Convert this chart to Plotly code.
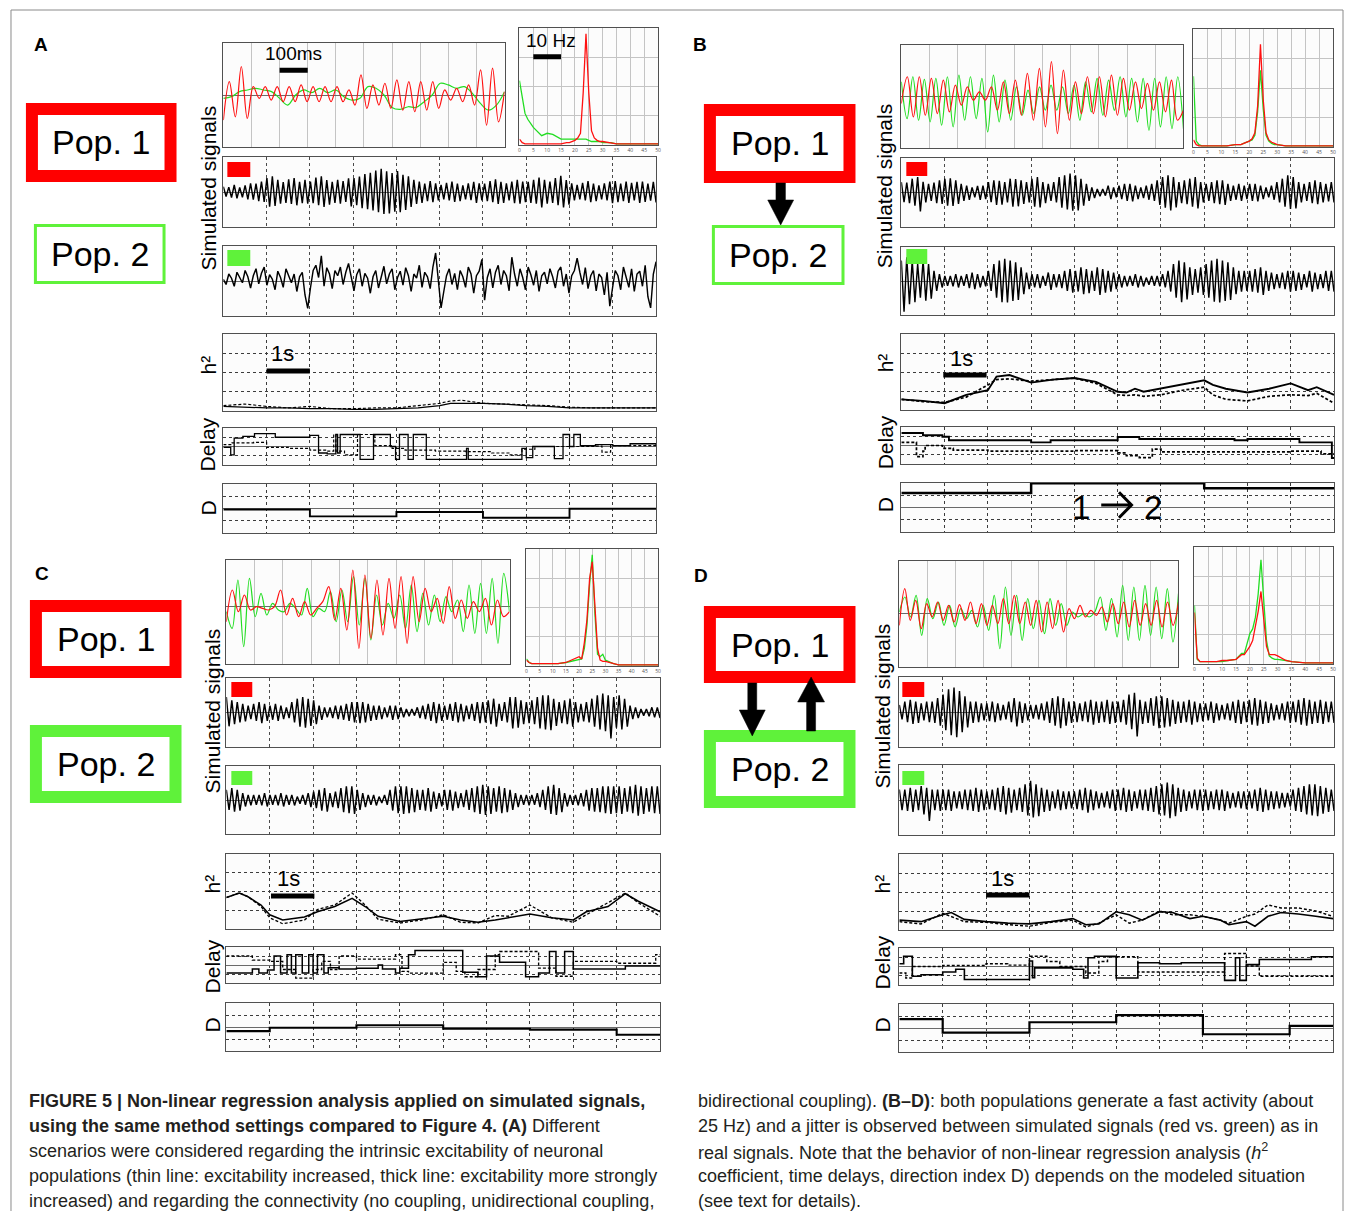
import numpy as np
import plotly.graph_objects as go

# page body has an 8px margin: the figure is drawn 8px in from the window corner
OFF = 8
W, H = 1339, 1203

# ======================= DATA =======================
# --- short overlays (1 s window, amplitude in arbitrary units; red = Pop.1, green = Pop.2)
A_ov_red = [-75,40,-65,85,-70,25,-10,25,-15,25,-20,25,-20,30,-20,25,-20,25,-20,25,-20,15,-30,60,
            -40,30,-30,35,-40,45,-45,40,-50,40,-45,40,-40,15,-15,20,-20,30,-30,75,-90,80,-80,10]
A_ov_green = [-10,-5,10,15,20,15,10,-10,-30,0,15,7,20,7,15,-5,-15,-10,25,20,0,-37,-43,-35,-37,-20,
              0,35,30,20,25,5,-25,-45,-30,10]
B_ov_red = [-22,58,-62,58,-57,53,-52,48,-47,33,-27,28,-12,13,-12,28,-42,43,-52,48,-57,68,-72,83,
            -92,103,-112,78,-72,43,-52,58,-52,58,-62,63,-57,53,-42,43,-37,38,-42,43,-47,48,-72,-42]
B_ov_green = [43,-67,58,-72,50,-77,53,-87,58,-92,63,-72,58,-67,53,-107,63,-77,48,-72,28,-57,18,-52,
              28,-42,33,-42,28,-52,33,-72,43,-47,53,-57,48,-42,58,-62,53,-77,53,-102,53,-92,58,-97,58,-97]
C_ov_red = [-45,50,-15,35,-10,0,-5,-10,0,50,-25,25,-30,15,-25,-5,15,60,-40,55,-70,110,-125,95,
            -95,80,-85,85,-65,90,-110,90,-45,55,-15,25,-50,60,-35,20,-35,15,-15,25,-55,20,-30,-15]
C_ov_green = [-15,-65,80,-120,85,-30,40,-25,10,-10,-15,10,-5,-25,55,-30,-5,-15,45,-45,50,-45,90,-55,
              85,-100,35,-55,10,-35,35,-65,65,-75,40,-55,35,-45,30,-15,20,-75,65,-80,70,-80,85,-110,100,-15]
D_ov_red = [-35,75,-20,40,-45,30,-10,35,-20,25,-25,27,-20,35,-30,30,-35,25,-30,45,-30,55,-30,35,-35,40,
            -55,35,-45,40,-55,15,-15,25,-10,10,-5,20,-25,30,-30,35,-40,40,-35,30,-35,40,-40,35,-35,35]
D_ov_green = [5,50,-10,55,-65,45,-15,35,-35,25,-40,15,-15,10,-40,25,-50,55,-105,80,-65,55,-80,45,-45,40,
              -60,45,-35,30,-35,5,-10,0,-10,5,50,-50,45,-70,85,-80,80,-80,85,-65,80,-75,75,-85,60]

# --- spectra (0-50 Hz, normalised power)
freqs = [0,1,2,3,5,8,10,12,15,17,18,20,21,22,23,24,25,26,27,28,29,30,33,35,40,45,50]
A_sp_red = [0.05,0.02,0.01,0.01,0.01,0.01,0.01,0.01,0.01,0.02,0.02,0.04,0.06,0.10,0.45,0.95,0.45,0.12,0.06,0.04,0.03,0.03,0.02,0.01,0.01,0.01,0.01]
A_sp_green = [0.55,0.40,0.27,0.22,0.15,0.08,0.10,0.09,0.05,0.05,0.05,0.05,0.05,0.05,0.05,0.05,0.04,0.03,0.03,0.03,0.03,0.02,0.02,0.01,0.01,0.01,0.01]
B_sp_red = [0.06,0.02,0.01,0.01,0.01,0.01,0.01,0.01,0.02,0.02,0.03,0.05,0.07,0.12,0.35,0.87,0.40,0.12,0.06,0.04,0.03,0.02,0.01,0.01,0.01,0.01,0.01]
B_sp_green = [0.60,0.05,0.02,0.01,0.01,0.01,0.01,0.01,0.02,0.02,0.03,0.05,0.06,0.10,0.30,0.65,0.32,0.10,0.05,0.03,0.02,0.02,0.01,0.01,0.01,0.01,0.01]
C_sp_red = [0.05,0.03,0.02,0.02,0.02,0.02,0.02,0.02,0.03,0.05,0.06,0.08,0.06,0.20,0.40,0.75,0.89,0.50,0.15,0.05,0.04,0.04,0.02,0.01,0.01,0.01,0.01]
C_sp_green = [0.06,0.03,0.02,0.02,0.02,0.02,0.02,0.02,0.03,0.04,0.04,0.05,0.06,0.15,0.35,0.70,0.95,0.45,0.10,0.08,0.10,0.05,0.02,0.01,0.01,0.01,0.01]
D_sp_red = [0.44,0.05,0.02,0.02,0.02,0.02,0.03,0.03,0.04,0.08,0.08,0.15,0.20,0.32,0.45,0.62,0.40,0.15,0.08,0.08,0.08,0.07,0.03,0.02,0.01,0.01,0.01]
D_sp_green = [0.50,0.04,0.02,0.02,0.02,0.02,0.02,0.03,0.04,0.09,0.09,0.26,0.30,0.40,0.60,0.89,0.55,0.20,0.07,0.05,0.04,0.04,0.03,0.02,0.01,0.01,0.01]
sp_ticks = [0,5,10,15,20,25,30,35,40,45,50]

# --- long simulated signals (10 s)
A_sig1 = [15,-13,14,-16,20,-18,13,-15,19,-21,25,-22,24,-26,30,-28,
          40,-42,45,-40,35,-33,28,-31,36,-34,40,-38,29,-32,35,-33,
          30,-32,41,-38,45,-43,34,-36,29,-31,35,-33,31,-28,39,-41,
          40,-38,44,-46,51,-49,55,-53,61,-58,66,-63,59,-61,54,-56,
          60,-58,49,-51,45,-43,35,-34,30,-31,24,-26,31,-29,25,-24,
          20,-21,26,-24,30,-28,24,-26,19,-21,25,-23,29,-31,25,-24,
          24,-26,31,-29,36,-34,29,-31,25,-24,30,-32,35,-33,30,-29,
          29,-31,35,-33,41,-44,35,-33,30,-31,40,-38,46,-44,34,-36,
          25,-24,20,-21,26,-24,31,-29,24,-26,19,-21,25,-24,30,-32,
          31,-29,24,-26,30,-31,26,-24,29,-31,30,-28,24,-25,29,-30]
A_sig2 = [5,-10,20,8,-15,25,10,-5,30,12,-20,15,35,-8,22,40,-12,18,5,-25,
          28,10,-18,35,15,-5,20,-30,12,25,-40,-78,-20,30,45,10,72,-15,38,20,
          -22,30,15,40,-10,25,50,5,-28,18,35,-15,22,8,-35,12,30,-20,15,42,
          -8,20,35,-25,10,28,-12,38,15,-30,20,8,45,-18,25,12,-22,40,80,10,
          -77,-30,15,35,-10,22,-25,30,12,-18,40,20,-35,15,28,62,-55,10,35,-20,
          25,45,-10,30,15,-28,68,20,-15,35,10,-25,40,18,-12,30,-30,15,25,-8,
          35,12,-20,28,40,-15,20,-35,15,30,65,25,-10,38,-22,15,30,-28,20,10,
          -40,25,-72,-20,30,15,-25,40,12,-18,35,-30,20,28,-15,45,-45,-77,20,55]
B_sig1 = [30,-28,29,-31,40,-38,45,-55,31,-29,25,-24,29,-31,35,-33,
          40,-38,41,-39,35,-33,25,-24,20,-21,15,-14,19,-21,20,-19,
          30,-28,35,-36,34,-35,30,-29,40,-41,39,-40,35,-33,30,-29,
          40,-41,45,-43,30,-31,25,-24,30,-29,45,-44,50,-49,55,-53,
          50,-52,40,-38,25,-24,15,-16,10,-11,10,-9,20,-19,15,-14,
          20,-19,25,-24,25,-26,20,-19,15,-16,20,-21,25,-24,35,-36,
          45,-44,50,-52,45,-43,30,-31,35,-34,40,-41,45,-46,30,-29,
          25,-24,30,-31,35,-34,35,-36,25,-24,20,-21,25,-24,20,-19,
          25,-24,25,-26,20,-19,15,-14,20,-21,30,-29,40,-41,50,-48,
          45,-46,30,-29,25,-24,30,-31,35,-34,30,-29,25,-26,30,-29]
B_sig2 = [60,-90,70,-68,60,-62,50,-49,60,-58,50,-52,30,-29,20,-19,
          15,-14,15,-16,20,-19,15,-14,20,-21,25,-24,20,-19,15,-16,
          30,-29,50,-49,60,-62,65,-63,60,-59,55,-56,40,-39,25,-24,
          20,-19,20,-21,15,-14,25,-26,20,-19,20,-21,30,-29,35,-34,
          30,-31,40,-39,35,-36,30,-29,40,-41,35,-34,30,-31,25,-24,
          20,-19,15,-16,15,-14,20,-19,15,-16,10,-11,15,-14,15,-16,
          20,-19,30,-31,50,-49,60,-62,55,-54,40,-41,35,-34,40,-41,
          50,-49,60,-61,65,-63,60,-59,55,-56,40,-39,30,-31,30,-29,
          30,-31,35,-34,40,-41,30,-29,25,-24,20,-21,25,-24,30,-31,
          30,-29,25,-26,20,-19,30,-31,25,-24,20,-21,30,-29,30,-31]
C_sig1 = [45,-40,35,-34,30,-29,25,-26,20,-19,25,-24,30,-31,25,-24,
          20,-21,25,-24,20,-19,15,-16,30,-29,40,-41,45,-44,40,-39,
          35,-34,20,-21,15,-14,15,-16,20,-19,20,-21,25,-24,30,-29,
          30,-31,30,-29,25,-24,20,-21,20,-19,15,-14,20,-21,20,-19,
          15,-14,10,-11,10,-9,15,-16,20,-19,25,-24,30,-31,25,-24,
          20,-21,25,-24,30,-29,25,-26,20,-19,25,-24,30,-31,30,-29,
          35,-34,40,-41,25,-24,30,-29,45,-46,45,-44,35,-34,30,-31,
          35,-34,45,-46,50,-49,50,-51,40,-39,30,-31,35,-34,40,-41,
          30,-29,25,-26,30,-29,40,-41,50,-49,55,-54,50,-75,45,-44,
          50,-49,40,-41,20,-19,15,-16,10,-9,10,-11,15,-14,15,-16]
C_sig2 = [30,-29,35,-34,30,-31,20,-19,15,-16,15,-14,15,-16,20,-19,
          15,-14,15,-16,20,-19,15,-14,15,-16,10,-11,15,-14,20,-21,
          25,-24,30,-31,35,-34,20,-21,25,-24,35,-36,40,-39,40,-41,
          30,-29,20,-21,15,-14,15,-16,10,-9,15,-14,30,-31,40,-39,
          40,-41,40,-39,35,-36,30,-29,30,-31,35,-34,25,-26,20,-19,
          30,-29,30,-31,25,-24,20,-21,30,-29,35,-36,40,-41,45,-44,
          40,-41,35,-34,40,-39,35,-36,30,-29,20,-21,15,-14,15,-16,
          15,-14,20,-21,30,-29,40,-41,45,-44,35,-36,20,-19,15,-14,
          15,-16,20,-19,30,-31,35,-34,35,-36,40,-39,40,-41,40,-39,
          40,-41,35,-34,40,-39,45,-46,40,-41,35,-34,40,-39,40,-41]
D_sig1 = [20,-21,30,-29,35,-34,30,-31,25,-24,30,-29,30,-31,40,-39,
          50,-52,65,-66,70,-72,60,-58,45,-44,30,-31,30,-29,25,-24,
          25,-26,30,-29,25,-24,20,-21,30,-29,40,-41,30,-31,25,-24,
          20,-19,20,-21,25,-24,30,-31,40,-39,45,-46,40,-39,30,-31,
          30,-29,25,-26,30,-29,35,-36,30,-31,30,-29,35,-34,30,-31,
          30,-29,35,-36,50,-49,55,-70,35,-34,30,-31,40,-39,45,-46,
          45,-44,40,-41,35,-34,30,-31,30,-29,35,-36,30,-29,25,-26,
          25,-24,30,-31,25,-24,20,-21,25,-24,30,-31,35,-34,30,-29,
          35,-36,40,-39,35,-34,30,-31,25,-24,20,-21,25,-24,30,-31,
          30,-29,35,-36,40,-39,35,-34,30,-31,35,-34,30,-29,30,-31]
D_sig2 = [30,-29,30,-31,35,-34,30,-29,40,-41,35,-60,30,-29,30,-31,
          30,-29,30,-31,25,-24,25,-26,30,-29,30,-31,35,-34,30,-29,
          25,-26,30,-29,35,-34,40,-41,35,-36,30,-29,35,-34,45,-44,
          55,-50,45,-46,35,-34,30,-31,25,-24,30,-29,25,-26,25,-24,
          25,-26,30,-29,35,-36,30,-29,25,-24,20,-21,25,-24,30,-31,
          30,-29,35,-34,30,-31,25,-24,30,-29,30,-31,35,-34,40,-41,
          45,-44,50,-52,45,-46,35,-34,30,-31,25,-24,30,-29,30,-31,
          30,-29,25,-26,30,-29,30,-31,25,-24,20,-21,25,-24,25,-26,
          25,-24,30,-31,35,-34,30,-29,25,-26,25,-24,20,-21,20,-19,
          30,-31,35,-34,40,-41,45,-44,45,-46,40,-39,35,-34,30,-31]

# --- h2 coefficient (solid / dotted)
A_h2_t = [0,0.5,1.0,1.5,2.0,2.5,3.0,3.5,4.0,4.5,5.0,5.25,5.5,6.0,6.5,7.0,7.5,8.0,8.5,9.0,9.5,10]
A_h2_solid = [0.06,0.05,0.04,0.04,0.03,0.03,0.02,0.02,0.03,0.04,0.07,0.10,0.10,0.10,0.09,0.07,0.06,0.04,0.04,0.04,0.04,0.04]
A_h2_dot = [0.07,0.09,0.06,0.04,0.06,0.03,0.03,0.04,0.04,0.07,0.10,0.13,0.14,0.10,0.09,0.08,0.07,0.05,0.04,0.04,0.04,0.04]
B_h2_t = [0,0.5,1.0,1.5,2.0,2.2,2.5,3.0,3.5,4.0,4.5,5.0,5.2,5.4,5.6,6.0,6.5,7.0,7.2,7.5,8.0,8.5,9.0,9.4,9.6,10]
B_h2_solid = [0.14,0.12,0.09,0.20,0.26,0.44,0.46,0.36,0.40,0.42,0.37,0.24,0.23,0.28,0.24,0.28,0.34,0.39,0.33,0.28,0.23,0.28,0.35,0.26,0.30,0.20]
B_h2_dot = [0.14,0.11,0.10,0.17,0.33,0.40,0.41,0.38,0.40,0.42,0.35,0.20,0.19,0.20,0.18,0.20,0.26,0.30,0.20,0.14,0.12,0.18,0.20,0.19,0.22,0.09]
C_h2_t = [0,0.3,0.5,0.8,1.0,1.3,1.8,2.1,2.5,2.9,3.2,3.5,4.0,4.5,5.0,5.4,5.8,6.2,6.5,7.0,7.5,8.0,8.3,8.8,9.2,9.5,10]
C_h2_solid = [0.42,0.48,0.43,0.32,0.19,0.12,0.16,0.23,0.30,0.41,0.30,0.17,0.10,0.14,0.17,0.12,0.09,0.12,0.15,0.20,0.15,0.12,0.23,0.30,0.47,0.37,0.23]
C_h2_dot = [0.42,0.48,0.43,0.30,0.15,0.07,0.12,0.26,0.32,0.48,0.32,0.13,0.08,0.12,0.19,0.09,0.08,0.18,0.17,0.32,0.15,0.09,0.19,0.35,0.48,0.35,0.17]
D_h2_t = [0,0.5,1.0,1.2,1.5,2.0,2.5,3.0,3.5,4.0,4.3,4.6,5.0,5.3,5.6,6.0,6.3,6.7,7.0,7.4,7.6,8.0,8.2,8.5,8.8,9.2,9.6,10]
D_h2_solid = [0.13,0.11,0.20,0.23,0.14,0.11,0.09,0.08,0.11,0.15,0.07,0.08,0.24,0.20,0.13,0.24,0.23,0.15,0.18,0.13,0.07,0.11,0.05,0.18,0.23,0.21,0.18,0.15]
D_h2_dot = [0.11,0.08,0.22,0.18,0.11,0.10,0.07,0.05,0.10,0.13,0.04,0.09,0.20,0.09,0.13,0.25,0.20,0.20,0.18,0.13,0.09,0.18,0.21,0.33,0.29,0.29,0.25,0.18]

# --- time delays (step changes: times and levels)
A_dl_solid_t = [0,0.17,0.25,0.45,0.72,1.2,2.0,2.2,2.4,2.6,2.64,2.70,3.16,3.47,3.86,3.98,4.07,4.27,4.39,4.69,5.62,5.66,6.9,7.0,7.15,7.65,7.85,8.0,8.1,8.25,8.6,9.0,9.4,10]
A_dl_solid = [-0.1,-0.9,0.9,1.1,1.4,1.0,1.2,-0.7,-0.8,1.3,-0.7,1.3,-1.4,1.3,0.0,-1.4,1.3,-1.4,1.3,-1.4,-0.2,-1.4,-0.2,-1.2,0.0,-1.3,1.3,0.0,1.3,0.1,0.2,0.1,0.3,0.1]
A_dl_dot_t = [0,0.2,0.7,1.0,1.5,2.0,2.4,2.55,2.6,2.8,3.1,3.5,3.9,4.2,4.9,5.6,6.2,6.6,6.9,7.2,8.0,8.6,8.75,8.95,10]
A_dl_dot = [0.2,0.4,0.45,-0.1,-0.2,-0.4,-0.5,1.3,-0.5,-0.9,1.3,0.1,-0.2,-0.4,-0.5,-0.55,-0.7,-0.9,-0.3,0.0,0.0,0.05,-0.6,0.1,0.1]
B_dl_solid_t = [0,0.5,0.95,1.1,3.0,3.45,5.0,5.5,7.7,8.0,9.2,9.95,10]
B_dl_solid = [1.35,1.1,0.95,0.56,0.34,0.56,0.92,0.7,0.56,0.7,0.34,-1.35,-1.35]
B_dl_dot_t = [0,0.35,0.5,0.55,0.95,1.2,2.0,4.0,5.0,5.2,5.5,5.8,6.0,9.0,9.7,10]
B_dl_dot = [0.34,-1.2,-0.6,0.0,-0.3,-0.5,-0.6,-0.55,-0.8,-1.1,-1.3,-0.4,-0.7,-0.6,-0.9,-0.9]
C_dl_solid_t = [0,0.6,0.75,0.95,1.1,1.25,1.4,1.5,1.6,1.75,1.9,2.0,2.1,2.25,2.35,2.6,3.0,3.5,3.6,3.9,4.0,4.2,4.35,5.45,5.8,6.0,6.3,6.9,7.2,7.45,7.6,7.8,8.0,9.2,10]
C_dl_solid = [-0.9,-0.45,-0.9,-0.55,1.0,-0.9,1.15,-0.9,1.15,-0.9,1.15,-0.9,1.15,-0.9,-0.3,-0.45,-0.35,0.0,-0.45,-0.9,-0.35,1.15,1.6,-0.8,-1.3,1.0,0.3,-1.3,-0.9,1.5,-0.9,1.5,-0.45,-0.1,-0.1]
C_dl_dot_t = [0,0.6,1.0,1.3,1.6,2.0,2.2,2.4,2.6,3.0,3.9,4.05,4.2,5.0,5.3,5.5,5.8,6.2,6.3,7.2,7.6,8.0,9.0,9.9,10]
C_dl_dot = [1.0,0.55,0.4,-0.5,-1.45,-0.5,0.4,-0.5,1.0,0.65,1.15,-0.7,-0.9,0.3,-0.7,-1.3,-0.5,1.15,1.5,-0.35,-1.25,0.4,0.2,1.15,1.15]
D_dl_solid_t = [0,0.1,0.3,0.5,1.0,1.3,1.5,3.0,3.07,3.12,4.0,4.25,4.35,4.5,5.0,5.5,6.0,6.5,7.5,7.75,7.85,8.0,8.3,9.5,10]
D_dl_solid = [0.3,1.1,-1.05,-0.9,-0.6,-0.3,-1.4,0.6,-1.2,-0.15,-0.3,-1.25,0.95,1.1,-1.25,0.4,0.3,0.4,-1.5,0.95,-1.5,0.2,0.75,1.05,1.05]
D_dl_dot_t = [0,0.15,0.3,1.0,2.0,2.5,3.0,3.4,3.7,4.3,4.6,4.8,5.5,7.5,8.0,8.3,10]
D_dl_dot = [-0.7,-1.25,0.0,0.1,0.3,0.15,1.1,0.55,0.0,-0.7,0.55,1.05,-0.6,1.4,0.05,-1.05,-1.05]

# --- direction index D (piecewise constant)
A_D_t = [0,2,4,6,8,10];      A_D = [-0.04,-0.32,-0.14,-0.38,-0.01,-0.01]
B_D_t = [0,3,7,10];          B_D = [0.59,0.99,0.79,0.79]
C_D_t = [0,1,3,5,7,9,10];    C_D = [-0.17,-0.03,0.07,-0.07,-0.11,-0.32,-0.32]
D_D_t = [0,1,3,5,7,9,10];    D_D = [0.37,-0.19,0.24,0.54,-0.26,0.09,0.09]

caption_left = [
    "<b>FIGURE 5 | Non-linear regression analysis applied on simulated signals,</b>",
    "<b>using the same method settings compared to Figure 4. (A)</b> Different",
    "scenarios were considered regarding the intrinsic excitability of neuronal",
    "populations (thin line: excitability increased, thick line: excitability more strongly",
    "increased) and regarding the connectivity (no coupling, unidirectional coupling,",
]
caption_right = [
    "bidirectional coupling). <b>(B–D)</b>: both populations generate a fast activity (about",
    "25 Hz) and a jitter is observed between simulated signals (red vs. green) as in",
    "real signals. Note that the behavior of non-linear regression analysis (<i>h</i><sup>2</sup>",
    "coefficient, time delays, direction index D) depends on the modeled situation",
    "(see text for details).",
]

# ======================= STYLE / LAYOUT =======================
RED = "#ff0000"
GREEN = "#5ff23a"
OV_RED = "#ff1010"
OV_GREEN = "#22dd22"
FRAME = "#505050"
FONT = "Liberation Sans, Arial, sans-serif"
CAPFONT = "Liberation Sans Narrow, Arial Narrow, Liberation Sans, Arial, sans-serif"

fig = go.Figure()
_n = [0]
layout_axes = {}


def PX(x):
    return (x - OFF) / W


def PY(y):
    return 1 - (y - OFF) / H


def add_axes(box, xr, yr, xdt=None, ydt=None, xgrid=None, ygrid=None, zero=False, xlabels=False):
    _n[0] += 1
    n = _n[0]
    s = "" if n == 1 else str(n)
    x0, x1, y0, y1 = box
    xa = dict(domain=[PX(x0), PX(x1)], range=xr, anchor="y" + s, showline=True, mirror=True,
              linecolor=FRAME, linewidth=1.3, zeroline=False, ticks="", showticklabels=False,
              fixedrange=True, showgrid=False)
    ya = dict(domain=[PY(y1), PY(y0)], range=yr, anchor="x" + s, showline=True, mirror=True,
              linecolor=FRAME, linewidth=1.3, zeroline=False, ticks="", showticklabels=False,
              fixedrange=True, showgrid=False)
    if xgrid:
        xa.update(showgrid=True, gridcolor=xgrid[0], griddash=xgrid[1], gridwidth=1, tick0=xr[0], dtick=xdt)
    if ygrid:
        ya.update(showgrid=True, gridcolor=ygrid[0], griddash=ygrid[1], gridwidth=1, tick0=yr[0], dtick=ydt)
    if zero:
        ya.update(zeroline=True, zerolinecolor="#6a6a6a", zerolinewidth=1)
    if xlabels:
        xa.update(showticklabels=True, tickmode="array", tickvals=sp_ticks,
                  ticktext=[str(v) for v in sp_ticks], tickfont=dict(size=5, color="#555"))
    layout_axes["xaxis" + s] = xa
    layout_axes["yaxis" + s] = ya
    return "x" + s, "y" + s


def trace(x, y, ax, color="black", width=1.0, dash=None, shape="linear"):
    ln = dict(color=color, width=width, shape=shape)
    if dash:
        ln["dash"] = dash
    if shape == "spline":
        ln["smoothing"] = 1.0
    fig.add_trace(go.Scatter(x=x, y=y, mode="lines", line=ln, xaxis=ax[0], yaxis=ax[1],
                             showlegend=False, hoverinfo="skip"))


shapes = []
annotations = []


def ptext(x, y, s, size, angle=0, bold=False, xanchor="center", yanchor="middle", family=FONT, color="black"):
    annotations.append(dict(x=PX(x), y=PY(y), xref="paper", yref="paper", text=("<b>%s</b>" % s) if bold else s,
                            showarrow=False, textangle=angle, xanchor=xanchor, yanchor=yanchor,
                            font=dict(size=size, family=family, color=color)))


def dtext(ax, x, y, s, size):
    annotations.append(dict(x=x, y=y, xref=ax[0], yref=ax[1], text=s, showarrow=False,
                            xanchor="center", yanchor="middle", font=dict(size=size, family=FONT, color="black")))


def dbar(ax, x0, x1, y, width=5):
    shapes.append(dict(type="line", xref=ax[0], yref=ax[1], x0=x0, x1=x1, y0=y, y1=y,
                       line=dict(color="black", width=width)))


def prect(x0, y0, x1, y1, color, lw, fill=None):
    h = lw / 2.0
    shapes.append(dict(type="rect", xref="paper", yref="paper", x0=PX(x0 + h), x1=PX(x1 - h),
                       y0=PY(y1 - h), y1=PY(y0 + h), line=dict(color=color, width=lw),
                       fillcolor=fill if fill else "rgba(0,0,0,0)"))


def psquare(x0, y0, x1, y1, color):
    shapes.append(dict(type="rect", xref="paper", yref="paper", x0=PX(x0), x1=PX(x1),
                       y0=PY(y1), y1=PY(y0), line=dict(width=0), fillcolor=color))


def parrow(xc, ybase, yhead, ytip, sw, hw):
    pts = [(xc - sw / 2, ybase), (xc + sw / 2, ybase), (xc + sw / 2, yhead), (xc + hw / 2, yhead),
           (xc, ytip), (xc - hw / 2, yhead), (xc - sw / 2, yhead)]
    path = "M " + " L ".join("%.5f,%.5f" % (PX(a), PY(b)) for a, b in pts) + " Z"
    shapes.append(dict(type="path", xref="paper", yref="paper", path=path,
                       fillcolor="black", line=dict(color="black", width=0.5)))


GRID_SOLID = ("#c4c4c4", "solid")
GRID_DOT = ("#3c3c3c", "dot")
GRID_DOT_LIGHT = ("#4a4a4a", "dot")


def panel(boxes, ov, sp, sig1, sig2, h2, dl, dd, ov_range, lw, scale):
    # overlay
    ax = add_axes(boxes["ov"], [0, 1000], ov_range, xdt=100, xgrid=GRID_SOLID, zero=True)
    trace(np.linspace(0, 1000, len(ov[1])), ov[1], ax, OV_GREEN, 1.2, shape="spline")
    trace(np.linspace(0, 1000, len(ov[0])), ov[0], ax, OV_RED, 1.2, shape="spline")
    if scale.get("ms"):
        dbar(ax, 200, 300, scale["ms"][1], 5)
        dtext(ax, 250, scale["ms"][0], "100ms", 19)
    # spectrum
    ax = add_axes(boxes["sp"], [0, 50], [0, 1.0], xdt=5, ydt=0.25, xgrid=GRID_SOLID, ygrid=GRID_SOLID, xlabels=True)
    trace(freqs, sp[1], ax, OV_GREEN, 1.3)
    trace(freqs, sp[0], ax, OV_RED, 1.3)
    if scale.get("hz"):
        dbar(ax, 5, 15, 0.755, 5)
        dtext(ax, 11.2, 0.89, "10 Hz", 19)
    # signals
    for key, vals in (("s1", sig1), ("s2", sig2)):
        ax = add_axes(boxes[key], [0, 10], [-100, 100], xdt=1, xgrid=GRID_DOT_LIGHT, zero=True)
        trace(np.linspace(0, 10, len(vals)), vals, ax, "#000000", 1.45)
    # h2
    ax = add_axes(boxes["h2"], [0, 10], [0, 1], xdt=1, ydt=0.25, xgrid=GRID_DOT, ygrid=GRID_DOT)
    trace(h2[0], h2[2], ax, "black", lw * 0.9, dash="3px,2px")
    trace(h2[0], h2[1], ax, "black", lw)
    dbar(ax, scale["s"][0], scale["s"][0] + 1, scale["s"][1], 5)
    dtext(ax, scale["s"][2], scale["s"][3], "1s", 22)
    # delay
    ax = add_axes(boxes["dl"], [0, 10], [-2, 2], xdt=1, ydt=1, xgrid=GRID_DOT, ygrid=GRID_DOT, zero=True)
    trace(dl[2], dl[3], ax, "black", lw * 0.9, dash="3px,2px", shape="hv")
    trace(dl[0], dl[1], ax, "black", lw, shape="hv")
    # D index
    ax = add_axes(boxes["dd"], [0, 10], [-1, 1], xdt=1, ydt=0.5, xgrid=GRID_DOT, ygrid=GRID_DOT, zero=True)
    trace(dd[0], dd[1], ax, "black", lw + 0.6, shape="hv")
    return ax


# ---------- Panel A ----------
boxA = dict(ov=(223, 505, 43, 147), sp=(520, 659, 28, 145), s1=(223, 657, 157, 227), s2=(223, 657, 246, 316),
            h2=(223, 657, 334, 411), dl=(223, 657, 428, 465), dd=(223, 657, 484, 533))
panel(boxA, (A_ov_red, A_ov_green), (A_sp_red, A_sp_green), A_sig1, A_sig2,
      (A_h2_t, A_h2_solid, A_h2_dot), (A_dl_solid_t, A_dl_solid, A_dl_dot_t, A_dl_dot), (A_D_t, A_D),
      [-155, 155], 1.3, dict(ms=(123, 74), hz=True, s=(1.0, 0.52, 1.36, 0.75)))

# ---------- Panel B ----------
boxB = dict(ov=(903, 1186, 45, 148), sp=(1196, 1336, 29, 147), s1=(903, 1337, 158, 227), s2=(903, 1337, 247, 315),
            h2=(903, 1337, 334, 410), dl=(903, 1337, 427, 464), dd=(903, 1337, 483, 532))
axBD = panel(boxB, (B_ov_red, B_ov_green), (B_sp_red, B_sp_green), B_sig1, B_sig2,
             (B_h2_t, B_h2_solid, B_h2_dot), (B_dl_solid_t, B_dl_solid, B_dl_dot_t, B_dl_dot), (B_D_t, B_D),
             [-155, 153], 1.9, dict(s=(0.97, 0.46, 1.38, 0.68)))
# "1 -> 2" label: digits as text, arrow drawn as a stroke
dtext(axBD, 4.15, 0.0, "1", 33)
dtext(axBD, 5.81, 0.0, "2", 33)
shapes.append(dict(type="path", xref=axBD[0], yref=axBD[1],
                   path="M 4.62,0.1 L 5.30,0.1 M 5.03,0.62 L 5.32,0.1 L 5.03,-0.42",
                   line=dict(color="black", width=3)))

# ---------- Panel C ----------
boxC = dict(ov=(226, 510, 560, 664), sp=(527, 659, 549, 666), s1=(226, 661, 678, 747), s2=(226, 661, 766, 834),
            h2=(226, 661, 854, 929), dl=(226, 661, 947, 983), dd=(226, 661, 1003, 1051))
panel(boxC, (C_ov_red, C_ov_green), (C_sp_red, C_sp_green), C_sig1, C_sig2,
      (C_h2_t, C_h2_solid, C_h2_dot), (C_dl_solid_t, C_dl_solid, C_dl_dot_t, C_dl_dot), (C_D_t, C_D),
      [-172, 140], 1.5, dict(s=(1.03, 0.44, 1.43, 0.68)))

# ---------- Panel D ----------
boxD = dict(ov=(901, 1181, 561, 667), sp=(1197, 1336, 547, 664), s1=(901, 1337, 677, 747), s2=(901, 1337, 765, 835),
            h2=(901, 1336, 854, 930), dl=(901, 1336, 948, 985), dd=(901, 1336, 1004, 1052))
panel(boxD, (D_ov_red, D_ov_green), (D_sp_red, D_sp_green), D_sig1, D_sig2,
      (D_h2_t, D_h2_solid, D_h2_dot), (D_dl_solid_t, D_dl_solid, D_dl_dot_t, D_dl_dot), (D_D_t, D_D),
      [-160, 158], 1.6, dict(s=(2.0, 0.46, 2.39, 0.68)))

# ---------- outer frame ----------
shapes.append(dict(type="rect", xref="paper", yref="paper", x0=PX(10), x1=PX(1346), y0=PY(1240), y1=PY(10),
                   line=dict(color="#8a8a8a", width=1), fillcolor="rgba(0,0,0,0)", layer="below"))

# ---------- population boxes ----------
prect(25, 103, 176, 182, RED, 12)
prect(33, 224, 165, 284, GREEN, 3)
prect(705, 104, 857, 183, RED, 12)
prect(713, 225, 846, 285, GREEN, 3)
prect(29, 600, 181, 678, RED, 12)
prect(29, 725, 181, 803, GREEN, 12)
prect(705, 606, 857, 683, RED, 12)
prect(705, 730, 857, 808, GREEN, 12)

for (cx, cy, s) in [(100.5, 142.5, "Pop. 1"), (99, 254, "Pop. 2"), (781, 143.5, "Pop. 1"), (779.5, 255, "Pop. 2"),
                    (105, 639, "Pop. 1"), (105, 764, "Pop. 2"), (781, 644.5, "Pop. 1"), (781, 769, "Pop. 2")]:
    ptext(cx, cy, s, 34)

# arrows
parrow(782, 183, 200, 225, 9.5, 26)
parrow(753.5, 683, 710, 736, 9, 26)
parrow(812.5, 731, 702, 677, 9, 27)

# coloured markers in the signal boxes
for (x0, y0, x1, y1, c) in [(227, 162, 250, 177, RED), (227, 250, 250, 266, GREEN),
                            (908, 162, 929, 176, RED), (908, 249, 929, 264, GREEN),
                            (231, 682, 252, 697, RED), (231, 771, 252, 785, GREEN),
                            (904, 682, 926, 697, RED), (904, 771, 926, 785, GREEN)]:
    psquare(x0, y0, x1, y1, c)

# panel letters
ptext(40, 44, "A", 19, bold=True)
ptext(701, 44, "B", 19, bold=True)
ptext(41, 573, "C", 19, bold=True)
ptext(702, 575, "D", 19, bold=True)

# y-axis labels
for (x, ys) in [(208, (188, 365, 444, 508)), (887, (186, 363, 442, 505)),
                (212, (711, 884, 966, 1025)), (884, (706, 884, 962, 1025))]:
    ptext(x, ys[0], "Simulated signals", 21, angle=-90)
    ptext(x, ys[1], "h²", 21, angle=-90)
    ptext(x, ys[2], "Delay", 21, angle=-90)
    ptext(x, ys[3], "D", 21, angle=-90)

# caption
for i, line in enumerate(caption_left):
    ptext(26, 1101 + 25 * i, line, 18, xanchor="left", family=CAPFONT, color="#231f20")
for i, line in enumerate(caption_right):
    ptext(697, 1101 + 25 * i, line, 18, xanchor="left", family=CAPFONT, color="#231f20")

fig.update_layout(**layout_axes)
fig.update_layout(width=W, height=H, margin=dict(l=0, r=0, t=0, b=0), autosize=False,
                  paper_bgcolor="white", plot_bgcolor="#fcfcfc", showlegend=False,
                  shapes=shapes, annotations=annotations)
fig.write_html("out.html")
